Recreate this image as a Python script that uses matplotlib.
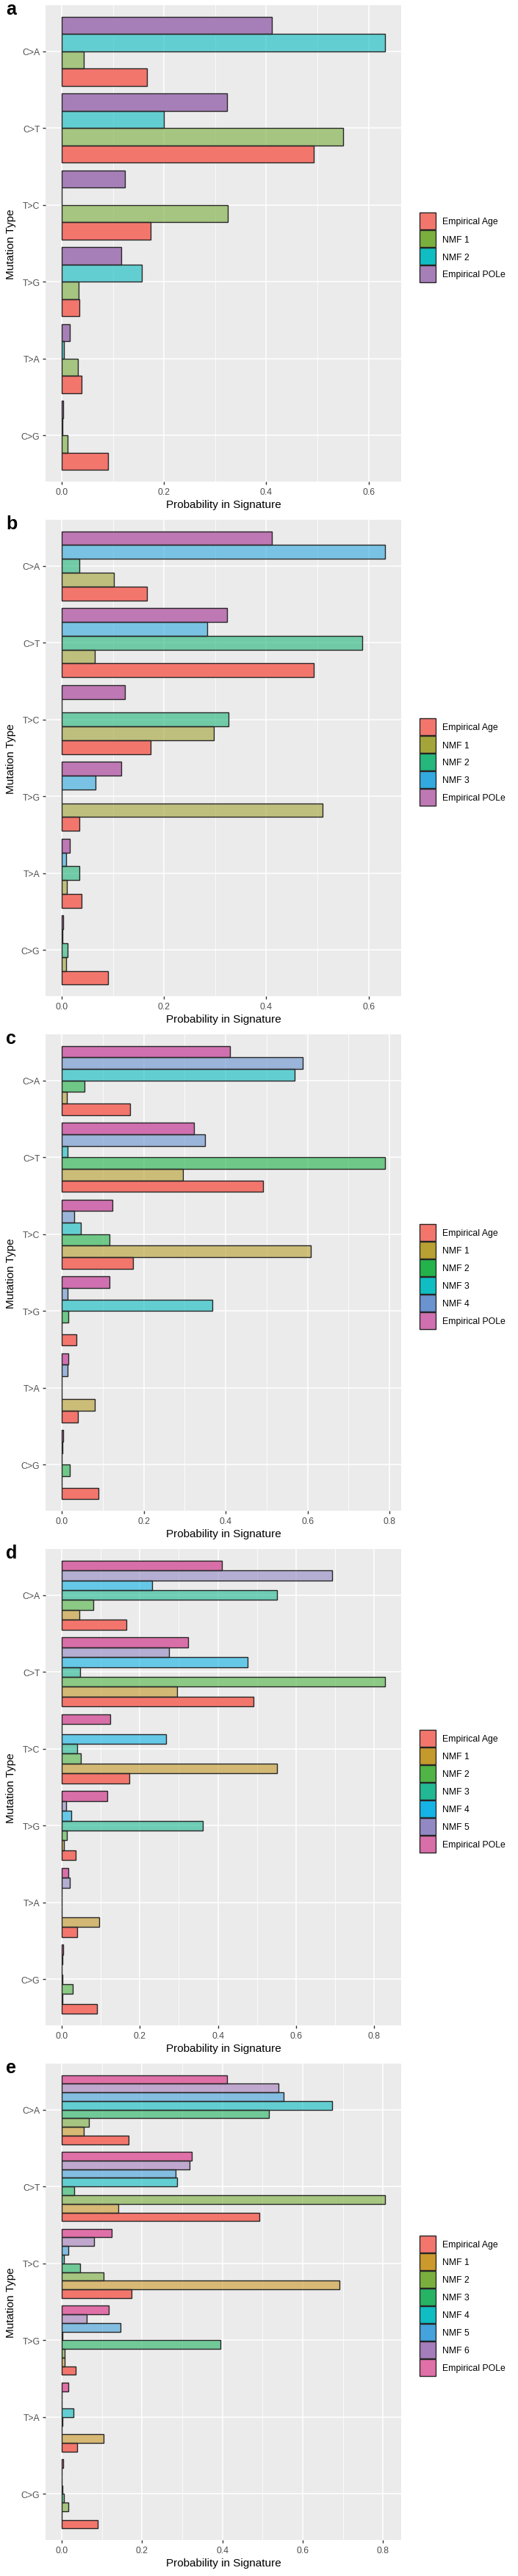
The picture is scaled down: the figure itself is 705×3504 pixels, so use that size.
import matplotlib
matplotlib.use("Agg")
import matplotlib.pyplot as plt
from matplotlib.patches import Rectangle
from matplotlib.ticker import MultipleLocator, FormatStrFormatter

plt.rcParams['font.family'] = ['Liberation Sans', 'DejaVu Sans']

# ---------------- data ----------------
mutation_types = ["C>A", "C>T", "T>C", "T>G", "T>A", "C>G"]   # top to bottom
empirical_age = [0.166, 0.492, 0.174, 0.035, 0.039, 0.090]
empirical_pole = [0.411, 0.323, 0.124, 0.117, 0.016, 0.003]

a_labels = ["Empirical Age", "NMF 1", "NMF 2", "Empirical POLe"]
a_nmf1 = [0.043, 0.550, 0.325, 0.033, 0.032, 0.012]
a_nmf2 = [0.632, 0.199, 0.000, 0.157, 0.005, 0.001]

b_labels = ["Empirical Age", "NMF 1", "NMF 2", "NMF 3", "Empirical POLe"]
b_nmf1 = [0.102, 0.065, 0.297, 0.510, 0.010, 0.008]
b_nmf2 = [0.035, 0.588, 0.326, 0.000, 0.034, 0.012]
b_nmf3 = [0.632, 0.285, 0.000, 0.066, 0.008, 0.001]

c_labels = ["Empirical Age", "NMF 1", "NMF 2", "NMF 3", "NMF 4", "Empirical POLe"]
c_nmf1 = [0.013, 0.296, 0.607, 0.000, 0.081, 0.000]
c_nmf2 = [0.056, 0.789, 0.117, 0.017, 0.000, 0.020]
c_nmf3 = [0.569, 0.0145, 0.047, 0.367, 0.000, 0.000]
c_nmf4 = [0.588, 0.349, 0.031, 0.014, 0.0145, 0.001]

d_labels = ["Empirical Age", "NMF 1", "NMF 2", "NMF 3", "NMF 4", "NMF 5", "Empirical POLe"]
d_nmf1 = [0.045, 0.296, 0.551, 0.006, 0.096, 0.002]
d_nmf2 = [0.081, 0.828, 0.048, 0.0135, 0.000, 0.028]
d_nmf3 = [0.551, 0.0465, 0.040, 0.361, 0.000, 0.002]
d_nmf4 = [0.231, 0.476, 0.268, 0.0245, 0.000, 0.000]
d_nmf5 = [0.693, 0.274, 0.000, 0.011, 0.021, 0.001]

e_labels = ["Empirical Age", "NMF 1", "NMF 2", "NMF 3", "NMF 4", "NMF 5", "NMF 6", "Empirical POLe"]
e_nmf1 = [0.054, 0.141, 0.691, 0.008, 0.105, 0.000]
e_nmf2 = [0.067, 0.805, 0.104, 0.0066, 0.000, 0.017]
e_nmf3 = [0.516, 0.032, 0.046, 0.396, 0.001, 0.005]
e_nmf4 = [0.673, 0.287, 0.005, 0.002, 0.030, 0.002]
e_nmf5 = [0.553, 0.284, 0.016, 0.146, 0.000, 0.000]
e_nmf6 = [0.539, 0.318, 0.081, 0.062, 0.000, 0.000]

# ---------------- styles ----------------
a_colors = ["#F3766D", "#7AAF3E", "#10BDC2", "#A77FB8"]
b_colors = ["#F3766D", "#A3A53A", "#25B77C", "#33AADF", "#BE78B4"]
c_colors = ["#F3766D", "#B8A032", "#23B34A", "#10BDC2", "#6A93CF", "#D070B0"]
d_colors = ["#F3766D", "#C49A2C", "#50B447", "#22B893", "#15B3E6", "#9289C4", "#D86FA8"]
e_colors = ["#F3766D", "#CC9A2C", "#7AAF3E", "#26B464", "#10BDC2", "#44A2DC", "#A57DBB", "#E070A8"]

panels = [
    ("a", a_labels, [empirical_age, a_nmf1, a_nmf2, empirical_pole], a_colors),
    ("b", b_labels, [empirical_age, b_nmf1, b_nmf2, b_nmf3, empirical_pole], b_colors),
    ("c", c_labels, [empirical_age, c_nmf1, c_nmf2, c_nmf3, c_nmf4, empirical_pole], c_colors),
    ("d", d_labels, [empirical_age, d_nmf1, d_nmf2, d_nmf3, d_nmf4, d_nmf5, empirical_pole], d_colors),
    ("e", e_labels, [empirical_age, e_nmf1, e_nmf2, e_nmf3, e_nmf4, e_nmf5, e_nmf6, empirical_pole], e_colors),
]

W, H = 705, 3505
fig = plt.figure(figsize=(W / 100, H / 100), dpi=100)
fig.patch.set_facecolor("white")

# overlay in pixel coordinates for legends and panel letters
ov = fig.add_axes([0, 0, 1, 1], zorder=10)
ov.set_xlim(0, W)
ov.set_ylim(H, 0)
ov.axis("off")
ov.patch.set_alpha(0)

X0, X1 = 62, 546
PANEL_STEP, PANEL_H, FIRST_TOP = 700, 648, 8
ncat = len(mutation_types)
ypos = [ncat - i for i in range(ncat)]  # C>A on top
EDGE = "#262626"
KEY = 24

for k, (letter, labels, series, colors) in enumerate(panels):
    ytop = FIRST_TOP + k * PANEL_STEP
    ybot = ytop + PANEL_H
    ax = fig.add_axes([X0 / W, 1 - ybot / H, (X1 - X0) / W, (ybot - ytop) / H])
    ax.set_facecolor("#EBEBEB")
    n = len(series)
    bw = 0.9 / n
    for i, (vals, col, lab) in enumerate(zip(series, colors, labels)):
        offs = -0.45 + (i + 0.5) * bw
        alpha = 1.0 if lab.startswith("Empirical") else 0.62
        ax.barh([p + offs for p in ypos], vals, height=bw, color=col, alpha=alpha,
                edgecolor="none", zorder=3)
        ax.barh([p + offs for p in ypos], vals, height=bw, facecolor="none",
                edgecolor=EDGE, linewidth=1.0, zorder=4)
    vmax = max(max(s) for s in series)
    ax.set_xlim(-0.05 * vmax, 1.05 * vmax)
    ax.set_ylim(0.4, ncat + 0.6)
    ax.set_yticks(ypos)
    ax.set_yticklabels(mutation_types)
    ax.xaxis.set_major_locator(MultipleLocator(0.2))
    ax.xaxis.set_minor_locator(MultipleLocator(0.1))
    ax.xaxis.set_major_formatter(FormatStrFormatter("%.1f"))
    ax.grid(True, which="major", color="white", linewidth=1.1, zorder=0)
    ax.grid(True, which="minor", axis="x", color="white", linewidth=0.55, zorder=0)
    ax.set_axisbelow(True)
    for sp in ax.spines.values():
        sp.set_visible(False)
    ax.tick_params(axis="both", which="major", length=3.0, width=1.0, color="#333333",
                   labelsize=8.8, labelcolor="#4D4D4D", pad=2.5)
    ax.tick_params(axis="x", which="minor", length=0)
    ax.set_xlabel("Probability in Signature", fontsize=11, color="black", labelpad=3)
    ax.set_ylabel("Mutation Type", fontsize=11, color="black", labelpad=5)

    # legend (ggplot-like: abutting keys)
    ycen = (ytop + ybot) / 2 + 5
    top = ycen - n * KEY / 2
    for i, (lab, col) in enumerate(zip(labels, colors)):
        y = top + i * KEY
        ov.add_patch(Rectangle((570.5, y + 0.5), 22.5, KEY - 1, facecolor=col,
                               edgecolor=EDGE, linewidth=1.0))
        ov.text(602, y + KEY / 2, lab, fontsize=8.8, va="center_baseline", ha="left",
                color="black")

    ov.text(8, ytop - 7, letter, fontsize=18, fontweight="bold", va="top", ha="left")

fig.savefig("out.png", dpi=100)
